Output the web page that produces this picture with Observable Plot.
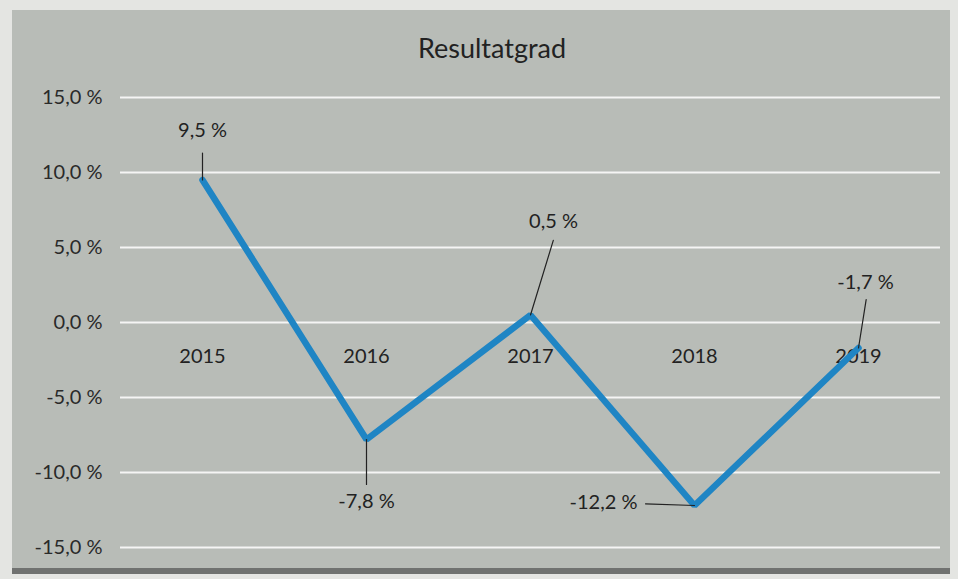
<!DOCTYPE html>
<html>
<head>
<meta charset="utf-8">
<script src="https://cdn.jsdelivr.net/npm/d3@7"></script>
<script src="https://cdn.jsdelivr.net/npm/@observablehq/plot@0.6"></script>
<style>
  html, body { margin: 0; padding: 0; }
  body { width: 958px; height: 579px; background: #e4e5e2; position: relative; overflow: hidden; font-family: Lato, "Open Sans", sans-serif; }
  #panel { position: absolute; left: 12px; top: 10px; width: 938px; height: 558px; background: #b8bcb7; border-bottom: 6px solid #707270; }
  #title { position: absolute; left: 0; width: 960px; top: 21px; text-align: center; font-size: 27px; color: #222222; }
  #chart { position: absolute; left: 0; top: 0; }
</style>
</head>
<body>
<div id="panel">
  <div id="title">Resultatgrad</div>
  <div id="chart"></div>
</div>
<script>
const years = ["2015", "2016", "2017", "2018", "2019"];
const values = [9.5, -7.8, 0.5, -12.2, -1.7];
const yTicks = [15, 10, 5, 0, -5, -10, -15];

const fmt = v => v.toFixed(1).replace(".", ",") + " %";
const data = years.map((year, i) => ({ year, value: values[i] }));

const leader = { draw(ctx, l) { ctx.moveTo(0, 0); ctx.lineTo(0, -l); } };
const textStyle = { fontSize: 20, fill: "#222222", fontFamily: "Lato, sans-serif" };

function annotate(i, o) {
  const d = [data[i]];
  return [
    Plot.vector(d, { x: "year", y: "value", anchor: "start", shape: leader, length: o.len, rotate: o.rot, stroke: "#222222", strokeWidth: 1.2 }),
    Plot.text(d, { x: "year", y: "value", text: r => fmt(r.value), dx: o.dx, dy: o.dy, textAnchor: o.anchor || "middle", ...textStyle })
  ];
}

const chart = Plot.plot({
  width: 938,
  height: 558,
  marginLeft: 108,
  marginRight: 10,
  marginTop: 87,
  marginBottom: 21,
  style: { background: "transparent", fontFamily: "Lato, sans-serif" },
  x: { type: "point", domain: years, padding: 0.5, axis: null },
  y: { domain: [-15, 15], ticks: yTicks, tickFormat: fmt, tickSize: 0, tickPadding: 18, label: null },
  marks: [
    Plot.ruleY(yTicks, { stroke: "#ffffff", strokeWidth: 2, strokeOpacity: 0.85 }),
    Plot.axisY({ ticks: yTicks, tickFormat: fmt, tickSize: 0, tickPadding: 18, fontSize: 20, fill: "#2a2a2a", label: null }),
    Plot.text(years, { x: d => d, y: () => 0, text: d => d, dy: 34, ...textStyle }),
    Plot.line(data, { x: "year", y: "value", stroke: "#1f85c4", strokeWidth: 6.5, strokeLinejoin: "miter" }),
    ...annotate(0, { dx: 0, dy: -49, len: 27, rot: 0 }),
    ...annotate(1, { dx: 0, dy: 62, len: 45, rot: 180 }),
    ...annotate(2, { dx: 23, dy: -93, len: 78, rot: 17 }),
    ...annotate(3, { dx: -57, dy: -3, len: 49, rot: -88, anchor: "end" }),
    ...annotate(4, { dx: 7, dy: -65, len: 49, rot: 9 })
  ]
});
document.getElementById("chart").appendChild(chart);
</script>
</body>
</html>
